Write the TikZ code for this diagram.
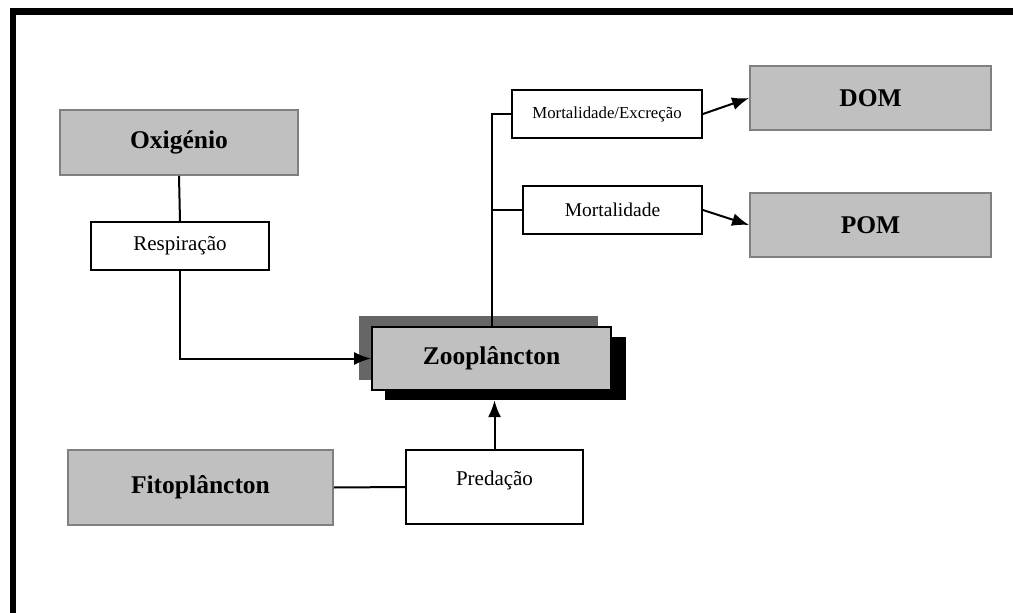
\documentclass[tikz,border=0pt]{standalone}
\usepackage{fontspec}
\setmainfont{Liberation Serif}
\usetikzlibrary{arrows.meta}
\definecolor{boxgray}{HTML}{C0C0C0}
\definecolor{edgegray}{HTML}{808080}
\definecolor{shadowgray}{HTML}{666666}
\begin{document}
\begin{tikzpicture}[x=1pt,y=-1pt,
  graybox/.style={draw=edgegray, fill=boxgray, line width=1.8pt, inner sep=0pt, font=\fontsize{25.5}{28}\selectfont\bfseries},
  whitebox/.style={draw=black, fill=white, line width=1.8pt, inner sep=0pt, align=center},
  conn/.style={line width=2pt},
  arr/.style={line width=2pt, -{Latex[length=17pt,width=13pt]}}
]
\useasboundingbox (0,0) rectangle (1013,613);
\fill[white] (0,0) rectangle (1013,613);
\draw[line width=6.5pt, line join=miter] (13,613) -- (13,11.5) -- (1013,11.5);

% nodes
\node[graybox, minimum width=238pt, minimum height=65pt] (oxi) at (179,142.5) {Oxigénio};
\node[whitebox, minimum width=178pt, minimum height=48pt, font=\fontsize{21}{22}\selectfont] (resp) at (180,246) {Respiração};

\node[fill=shadowgray, minimum width=239pt, minimum height=64pt, inner sep=0pt] (zgray) at (478.5,348) {};
\node[fill=black, minimum width=241pt, minimum height=63pt, inner sep=0pt] (zblack) at (505.5,368.5) {};
\node[graybox, draw=black, minimum width=239pt, minimum height=63pt] (zoo) at (491.5,358.5) {Zooplâncton};

\node[whitebox, minimum width=190pt, minimum height=48pt, font=\fontsize{16.8}{18}\selectfont] (mortexc) at (607,114) {Mortalidade/Excreção};
\node[whitebox, minimum width=179pt, minimum height=48pt, font=\fontsize{19.5}{20}\selectfont] (mort) at (612.5,210) {Mortalidade};

\node[graybox, minimum width=241pt, minimum height=64pt] (dom) at (870.5,98) {DOM};
\node[graybox, minimum width=241pt, minimum height=64pt] (pom) at (870.5,225) {POM};

\node[graybox, minimum width=265pt, minimum height=75pt] (fito) at (200.5,487.5) {Fitoplâncton};
\node[whitebox, minimum width=177pt, minimum height=74pt, font=\fontsize{21}{15}\selectfont] (pred) at (494.5,487) {Predação\\[-2pt]\strut};

% connectors
\draw[conn] (oxi.south) -- (resp.north);
\draw[arr] (resp.south) |- (zoo.west);
\draw[conn] (zoo.north) |- (mortexc.west);
\draw[conn] (mort.west) -- (mort.west -| zoo.north);
\draw[arr] (mortexc.east) -- (dom.west);
\draw[arr] (mort.east) -- (pom.west);
\draw[conn] (fito.east) -- (pred.west);
\draw[arr] (pred.north) -- (pred.north |- zblack.south);
\end{tikzpicture}
\end{document}
